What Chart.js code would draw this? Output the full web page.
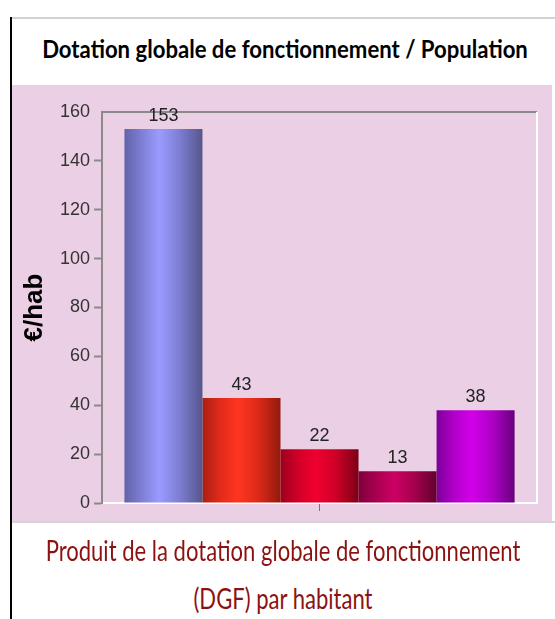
<!DOCTYPE html>
<html>
<head>
<meta charset="utf-8">
<script src="https://cdn.jsdelivr.net/npm/chart.js@4"></script>
<style>
  body { margin: 0; background: #fff; }
  #page { position: relative; width: 555px; height: 619px; overflow: hidden; }
  #lineLeft { position: absolute; left: 10px; top: 17px; width: 2px; height: 602px; background: #000; }
  #lineTop { position: absolute; left: 12px; top: 17px; width: 543px; height: 2px; background: #d2d2d2; }
  #plot { position: absolute; left: 12px; top: 85px; width: 540px; height: 436px; background: #ebd0e5; }
  #lineBottom { position: absolute; left: 12px; top: 521px; width: 543px; height: 2px; background: #d4d4d4; }
  .cell { position: absolute; top: 518px; width: 1px; height: 5px; background: #d4d4d4; }
  .txt { position: absolute; white-space: nowrap; font-family: Lato, "Open Sans", sans-serif; line-height: 1.2; }
  #title { top: 35px; left: 285px; font-weight: bold; font-size: 24px; color: #000; }
  #cap1 { top: 533px; left: 283px; font-size: 29px; color: #8c1212; }
  #cap2 { top: 581px; left: 283px; font-size: 29px; color: #8c1212; }
</style>
</head>
<body>
<div id="page">
  <div id="lineLeft"></div>
  <div id="lineTop"></div>
  <div class="txt" id="title">Dotation globale de fonctionnement / Population</div>
  <div id="plot"><canvas id="myChart"></canvas></div>
  <div id="lineBottom"></div>
  <div class="cell" style="left:102px"></div>
  <div class="cell" style="left:193px"></div>
  <div class="cell" style="left:285px"></div>
  <div class="cell" style="left:376px"></div>
  <div class="cell" style="left:467px"></div>
  <div class="txt" id="cap1">Produit de la dotation globale de fonctionnement</div>
  <div class="txt" id="cap2">(DGF) par habitant</div>
</div>
<script>
// données
var categories = [''];
var seriesNames = ['Série 1', 'Série 2', 'Série 3', 'Série 4', 'Série 5'];
var seriesValues = [153, 43, 22, 13, 38];
var yTicks = [0, 20, 40, 60, 80, 100, 120, 140, 160];

// couleurs des barres : bord gauche, milieu, centre clair, bord droit
var barColors = [
  ['#6262aa', '#7e7ed4', '#9b9bff', '#56568c'],
  ['#a82012', '#e02a1a', '#ff3520', '#921a0c'],
  ['#9c001e', '#d00028', '#f0002f', '#7c0016'],
  ['#7e003c', '#a8004e', '#cc0064', '#62002e'],
  ['#7c0098', '#b000c8', '#d200e8', '#6a007c']
];
var catPct = 0.897;

// le titre et la légende du bas sont resserrés comme dans l'original
function squeeze(id, scale) {
  document.getElementById(id).style.transform = 'translateX(-50%) scaleX(' + scale + ')';
}
var tw = document.getElementById('title').offsetWidth;
squeeze('title', 486 / tw);
var cw = document.getElementById('cap1').offsetWidth;
squeeze('cap1', 475 / cw);
squeeze('cap2', 475 / cw);

function barGradient(c) {
  var chart = c.chart;
  var cols = barColors[c.datasetIndex];
  var area = chart.chartArea;
  var xs = chart.scales.x;
  if (!area || !xs) return cols[1];
  var n = seriesValues.length;
  var groupW = (xs.right - xs.left) * catPct;
  var center = xs.getPixelForValue(0);
  var left = center - groupW / 2 + c.datasetIndex * groupW / n;
  var g = chart.ctx.createLinearGradient(left, 0, left + groupW / n, 0);
  g.addColorStop(0, cols[0]);
  g.addColorStop(0.22, cols[1]);
  g.addColorStop(0.45, cols[2]);
  g.addColorStop(0.7, cols[1]);
  g.addColorStop(1, cols[3]);
  return g;
}

var datasets = seriesValues.map(function (v, i) {
  return {
    label: seriesNames[i],
    data: [v],
    backgroundColor: barGradient,
    borderWidth: 0,
    barPercentage: 1,
    categoryPercentage: catPct
  };
});

var valueLabels = {
  id: 'valueLabels',
  afterDatasetsDraw: function (chart) {
    var ctx = chart.ctx;
    ctx.save();
    ctx.font = '18px "Liberation Sans", Arial, sans-serif';
    ctx.fillStyle = '#222';
    ctx.textAlign = 'center';
    ctx.textBaseline = 'bottom';
    chart.data.datasets.forEach(function (ds, i) {
      chart.getDatasetMeta(i).data.forEach(function (el, j) {
        ctx.fillText(ds.data[j], el.x, el.y - 4);
      });
    });
    ctx.restore();
  }
};

var frame = {
  id: 'frame',
  beforeDatasetsDraw: function (chart) {
    var a = chart.chartArea, ctx = chart.ctx;
    ctx.save();
    ctx.lineWidth = 2;
    ctx.strokeStyle = '#8a8a8a';
    ctx.beginPath();
    ctx.moveTo(a.left, a.top);
    ctx.lineTo(a.right, a.top);
    ctx.stroke();
    ctx.strokeStyle = '#ffffff';
    ctx.beginPath();
    ctx.moveTo(a.right, a.top);
    ctx.lineTo(a.right, a.bottom);
    ctx.stroke();
    ctx.restore();
  }
};

var ctx = document.getElementById('myChart').getContext('2d');
var myChart = new Chart(ctx, {
  type: 'bar',
  data: {
    labels: categories,
    datasets: datasets
  },
  options: {
    responsive: true,
    maintainAspectRatio: false,
    animation: false,
    layout: { padding: { left: 0, top: 27, right: 15, bottom: 10 } },
    plugins: {
      legend: { display: false },
      tooltip: { enabled: false }
    },
    scales: {
      x: {
        grid: { display: true, drawOnChartArea: false, offset: false, tickLength: 8, color: '#777' },
        border: { display: true, color: '#ffffff', width: 2 },
        ticks: { display: false }
      },
      y: {
        min: yTicks[0],
        max: yTicks[yTicks.length - 1],
        afterBuildTicks: function (axis) {
          axis.ticks = yTicks.map(function (v) { return { value: v }; });
        },
        grid: {
          drawOnChartArea: false,
          tickLength: 8,
          tickColor: function (c) { return c.tick && c.tick.value === 160 ? 'rgba(0,0,0,0)' : '#8a8a8a'; },
          tickWidth: 2
        },
        border: { display: true, color: '#8a8a8a', width: 2 },
        ticks: {
          padding: 4,
          color: '#333',
          font: { family: '"Liberation Sans", Arial, sans-serif', size: 18 }
        },
        title: {
          display: true,
          text: '€/hab',
          color: '#000',
          font: { family: '"Liberation Sans", Arial, sans-serif', size: 26, weight: 'bold', lineHeight: 1 },
          padding: { top: 10, bottom: 8 }
        }
      }
    }
  },
  plugins: [valueLabels, frame]
});
</script>
</body>
</html>
